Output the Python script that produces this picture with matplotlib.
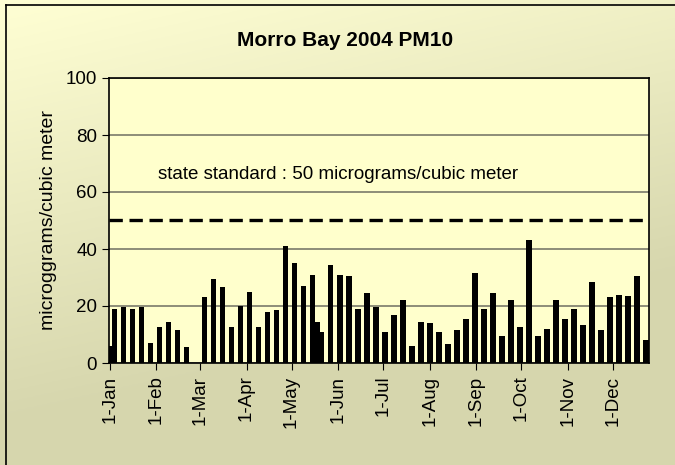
import numpy as np
import pandas as pd
import matplotlib
matplotlib.use("Agg")
import matplotlib.pyplot as plt
import matplotlib.dates as mdates
from matplotlib.lines import Line2D

plt.rcParams['font.family'] = ['Liberation Sans', 'DejaVu Sans']

# sample dates (1-in-6 day schedule plus a couple of extra samples)
dates = ["2004-01-01", "2004-01-04", "2004-01-10", "2004-01-16", "2004-01-22", "2004-01-28",
         "2004-02-03", "2004-02-09", "2004-02-15", "2004-02-21",
         "2004-03-04", "2004-03-10", "2004-03-16", "2004-03-22", "2004-03-28",
         "2004-04-03", "2004-04-09", "2004-04-15", "2004-04-21", "2004-04-27",
         "2004-05-03", "2004-05-09", "2004-05-15", "2004-05-18", "2004-05-21", "2004-05-27",
         "2004-06-02", "2004-06-08", "2004-06-14", "2004-06-20", "2004-06-26",
         "2004-07-02", "2004-07-08", "2004-07-14", "2004-07-20", "2004-07-26",
         "2004-08-01", "2004-08-07", "2004-08-13", "2004-08-19", "2004-08-25", "2004-08-31",
         "2004-09-06", "2004-09-12", "2004-09-18", "2004-09-24", "2004-09-30",
         "2004-10-06", "2004-10-12", "2004-10-18", "2004-10-24", "2004-10-30",
         "2004-11-05", "2004-11-11", "2004-11-17", "2004-11-23", "2004-11-29",
         "2004-12-05", "2004-12-11", "2004-12-17", "2004-12-23"]
pm10 = [6, 19, 19.5, 19, 19.5, 7,
        12.5, 14.5, 11.5, 5.5,
        23, 29.5, 26.5, 12.5, 20,
        25, 12.5, 18, 18.5, 41,
        35, 27, 31, 14.5, 11, 34.5,
        31, 30.5, 19, 24.5, 19.5,
        11, 17, 22, 6, 14.5,
        14, 11, 6.5, 11.5, 15.5, 31.5,
        19, 24.5, 9.5, 22, 12.5,
        43, 9.5, 12, 22, 15.5,
        19, 13.5, 28.5, 11.5, 23,
        24, 23.5, 30.5, 8]
standard = 50
yticks = [0, 20, 40, 60, 80, 100]

x = mdates.date2num(pd.to_datetime(dates))
start = mdates.date2num(pd.Timestamp("2004-01-01"))

fig = plt.figure(figsize=(6.75, 4.65), dpi=100)

# gradient background
bg = fig.add_axes([0, 0, 1, 1], zorder=-10)
yy, xx = np.mgrid[0:1:200j, 0:1:200j]
t = np.clip(yy * 1.1 + xx * 0.35, 0, 1)
c0 = np.array([1.0, 1.0, 0.83])
c1 = np.array([0.84, 0.84, 0.68])
img = c0[None, None, :] * (1 - t[..., None]) + c1[None, None, :] * t[..., None]
bg.imshow(img, aspect='auto', extent=[0, 1, 1, 0])
bg.set_axis_off()
fig.add_artist(Line2D([6 / 675, 6 / 675], [0, 1 - 5 / 465], transform=fig.transFigure, color='black', lw=1.2))
fig.add_artist(Line2D([6 / 675, 1], [1 - 5 / 465, 1 - 5 / 465], transform=fig.transFigure, color='black', lw=1.2))

ax = fig.add_axes([109 / 675, 1 - 363 / 465, 540 / 675, 285 / 465])
ax.set_facecolor('#FFFFCC')
ax.bar(x, pm10, width=3.8, color='black', zorder=3)
ax.axhline(standard, color='black', lw=2.4, ls=(0, (4, 2)), zorder=4)
ax.text(start + 32, 66, "state standard : 50 micrograms/cubic meter",
        fontsize=13.5, va='center', ha='left')

ax.set_ylim(0, 100)
ax.set_yticks(yticks)
ax.yaxis.grid(True, color='#7a7a6a', lw=1.2, zorder=0)
ax.set_xlim(start - 0.6, start + 359)
ax.xaxis.set_major_locator(mdates.MonthLocator())
ax.xaxis.set_major_formatter(plt.FuncFormatter(
    lambda v, p: f"{mdates.num2date(v).day}-{mdates.num2date(v):%b}"))
plt.setp(ax.get_xticklabels(), rotation=90)
ax.tick_params(labelsize=13.5, length=5, color='black')
ax.tick_params(axis='x', pad=4)
for s in ax.spines.values():
    s.set_color('black')
    s.set_linewidth(1.2)

ax.set_ylabel("microggrams/cubic meter", fontsize=14, labelpad=6)
fig.text(345 / 675, 1 - 40 / 465, "Morro Bay 2004 PM10", fontsize=15, fontweight='bold',
         ha='center', va='center')

fig.savefig("out.png", dpi=100)
